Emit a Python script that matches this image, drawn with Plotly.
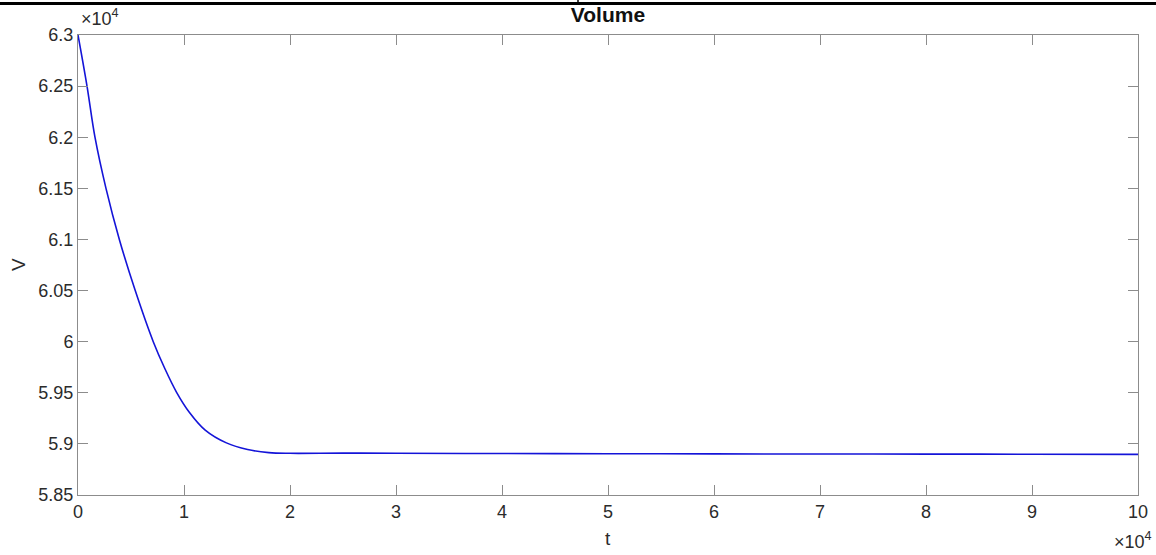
import plotly.graph_objects as go

# time (s) and volume values
t_vals = [0, 850, 1600, 2640, 3900, 5400, 7100, 8200, 9300, 10500, 12000, 14000, 16000,
          18000, 20000, 25000, 30000, 40000, 50000, 60000, 70000, 80000, 90000, 100000]
v_vals = [63000, 62500, 62000, 61500, 61000, 60500, 60000, 59735, 59505, 59310, 59135, 59010, 58945,
          58915, 58908, 58910, 58908, 58906, 58904, 58902, 58901, 58900, 58899, 58897]

x_ticks = [0, 10000, 20000, 30000, 40000, 50000, 60000, 70000, 80000, 90000, 100000]
x_labels = ["0", "1", "2", "3", "4", "5", "6", "7", "8", "9", "10"]
y_ticks = [58500, 59000, 59500, 60000, 60500, 61000, 61500, 62000, 62500, 63000]
y_labels = ["5.85", "5.9", "5.95", "6", "6.05", "6.1", "6.15", "6.2", "6.25", "6.3"]

L, R, T, B = 78, 1138, 35, 495
W, H = 1156, 555
FONT = "Liberation Sans, Arial"
TXT = "#2b2b2b"

fig = go.Figure()
fig.add_trace(go.Scatter(x=t_vals, y=v_vals, mode="lines",
                         line=dict(color="#1414d8", width=1.6, shape="spline", smoothing=1.0),
                         showlegend=False, hoverinfo="skip"))

axis_common = dict(showgrid=False, zeroline=False, showline=True, linecolor="#8c8c8c",
                   linewidth=1, mirror="ticks", ticks="inside", ticklen=10, tickwidth=1,
                   tickcolor="#8c8c8c", automargin=False,
                   tickfont=dict(family=FONT, size=18, color=TXT))

fig.update_layout(
    width=W, height=H, autosize=False,
    margin=dict(l=L, r=W - R, t=T, b=H - B, autoexpand=False),
    paper_bgcolor="white", plot_bgcolor="white",
    title=dict(text="<b>Volume</b>", x=(L + R) / 2 / W, xanchor="center",
               y=1 - 15 / H, yanchor="middle",
               font=dict(family=FONT, size=21, color="#111111")),
    xaxis=dict(range=[0, 100000], tickvals=x_ticks, ticktext=x_labels, **axis_common),
    yaxis=dict(range=[58500, 63000], tickvals=y_ticks, ticktext=y_labels, **axis_common),
)

def px_x(p):
    return (p - L) / (R - L)

def px_y(p):
    return (B - p) / (B - T)

# axis titles
fig.add_annotation(text="t", xref="paper", yref="paper", x=px_x(608), y=px_y(538),
                   xanchor="center", yanchor="middle", showarrow=False,
                   font=dict(family=FONT, size=19, color=TXT))
fig.add_annotation(text="V", xref="paper", yref="paper", x=px_x(18), y=px_y(265),
                   xanchor="center", yanchor="middle", showarrow=False, textangle=-90,
                   font=dict(family=FONT, size=19, color=TXT))

# exponent labels
fig.add_annotation(text="×10<sup>4</sup>", xref="paper", yref="paper",
                   x=px_x(79), y=px_y(17), xanchor="left", yanchor="middle",
                   showarrow=False, font=dict(family=FONT, size=18, color=TXT))
fig.add_annotation(text="×10<sup>4</sup>", xref="paper", yref="paper",
                   x=px_x(1154), y=px_y(540), xanchor="right", yanchor="middle",
                   showarrow=False, font=dict(family=FONT, size=18, color=TXT))

# page-crop artifacts at the very top of the reference
fig.add_shape(type="line", xref="paper", yref="paper",
              x0=px_x(0), x1=px_x(W), y0=px_y(3.5), y1=px_y(3.5),
              line=dict(color="black", width=3))
fig.add_shape(type="line", xref="paper", yref="paper",
              x0=px_x(578), x1=px_x(578), y0=px_y(3.5), y1=px_y(-2),
              line=dict(color="black", width=1.5))

fig.write_html("out.html", config={"displayModeBar": False},
               post_script="document.body.style.margin='0';document.body.style.overflow='hidden';")
